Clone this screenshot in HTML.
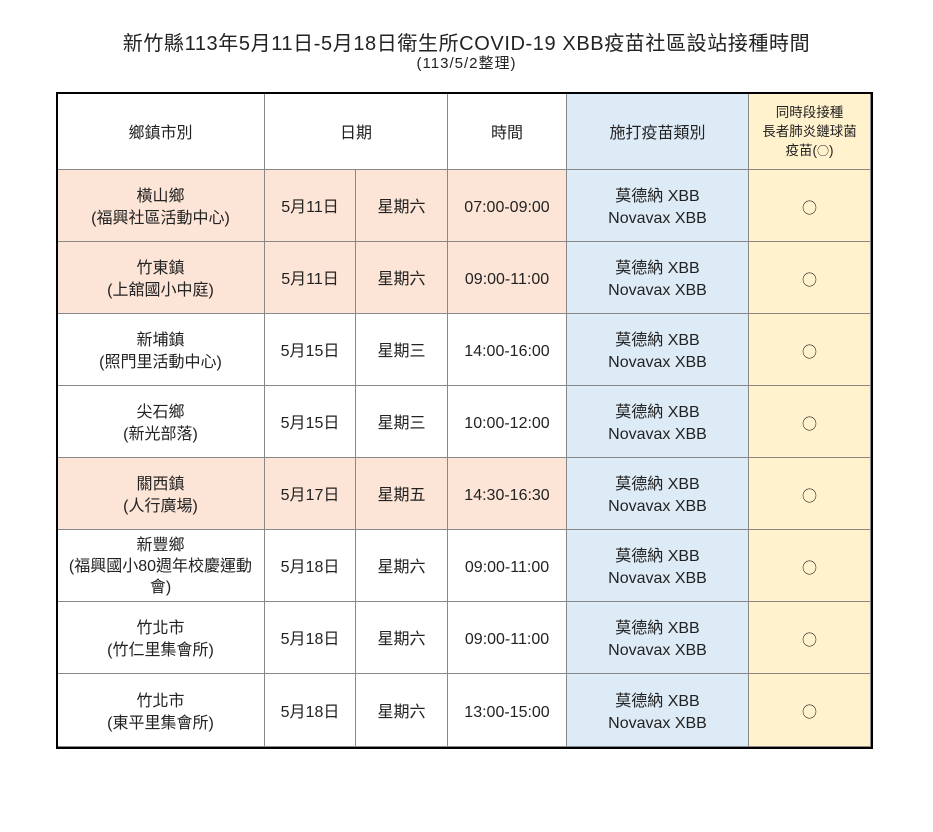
<!DOCTYPE html>
<html><head><meta charset="utf-8"><style>
body{margin:0;width:933px;height:832px;background:#fff;position:relative;font-family:"Liberation Sans","Noto Sans CJK TC",sans-serif;color:#222;overflow:hidden}
.t{position:absolute;left:0;width:933px;text-align:center}
.c{position:absolute;display:flex;align-items:center;justify-content:center;text-align:center;font-size:16px;line-height:22px;box-sizing:border-box;border-right:1px solid #888;border-bottom:1px solid #888;padding-top:5px}
.p{background:#fce4d6}.b{background:#ddebf7}.y{background:#fff2cc}
.o{font-family:"Noto Sans CJK TC",sans-serif;font-size:15px}
#frame{position:absolute;left:56px;top:92px;width:813px;height:653px;border:2px solid #000}
</style></head><body>
<div class="t" style="top:27px;font-size:20px;letter-spacing:0.6px">新竹縣113年5月11日-5月18日衛生所COVID-19 XBB疫苗社區設站接種時間</div>
<div class="t" style="top:52px;font-size:15px;letter-spacing:1px">(113/5/2整理)</div>
<div id="cells"></div>
<div id="frame"></div>
<script>
var X=[57,265,356,448,567,749,871],Y=[93,170,242,314,386,458,530,602,674,747];
var rows=[["橫山鄉<br>(福興社區活動中心)","5月11日","星期六","07:00-09:00",1],
["竹東鎮<br>(上舘國小中庭)","5月11日","星期六","09:00-11:00",1],
["新埔鎮<br>(照門里活動中心)","5月15日","星期三","14:00-16:00",0],
["尖石鄉<br>(新光部落)","5月15日","星期三","10:00-12:00",0],
["關西鎮<br>(人行廣場)","5月17日","星期五","14:30-16:30",1],
["新豐鄉<br>(福興國小80週年校慶運動<br>會)","5月18日","星期六","09:00-11:00",0],
["竹北市<br>(竹仁里集會所)","5月18日","星期六","09:00-11:00",0],
["竹北市<br>(東平里集會所)","5月18日","星期六","13:00-15:00",0]];
var h="";
function cell(x0,x1,y0,y1,cls,txt,st){h+='<div class="c '+cls+'" style="left:'+x0+'px;top:'+y0+'px;width:'+(x1-x0)+'px;height:'+(y1-y0)+'px;'+(st||'')+'"><div>'+txt+'</div></div>';}
cell(X[0],X[1],Y[0],Y[1],"","鄉鎮市別");
cell(X[1],X[3],Y[0],Y[1],"","日期");
cell(X[3],X[4],Y[0],Y[1],"","時間");
cell(X[4],X[5],Y[0],Y[1],"b","施打疫苗類別");
cell(X[5],X[6],Y[0],Y[1],"y","同時段接種<br>長者肺炎鏈球菌<br>疫苗(<span class='o' style='font-size:12px'>○</span>)","font-size:13.5px;line-height:19px;padding-top:0;white-space:nowrap");
rows.forEach(function(r,i){var y0=Y[i+1],y1=Y[i+2],p=r[4]?"p":"";
cell(X[0],X[1],y0,y1,p,r[0],r[0].split("<br>").length>2?"line-height:21px;padding-top:2px":"");
cell(X[1],X[2],y0,y1,p,r[1]);cell(X[2],X[3],y0,y1,p,r[2]);cell(X[3],X[4],y0,y1,p,r[3]);
cell(X[4],X[5],y0,y1,"b","莫德納 XBB<br>Novavax XBB");cell(X[5],X[6],y0,y1,"y","<span class='o'>○</span>");});
document.getElementById("cells").innerHTML=h;
</script>
</body></html>
